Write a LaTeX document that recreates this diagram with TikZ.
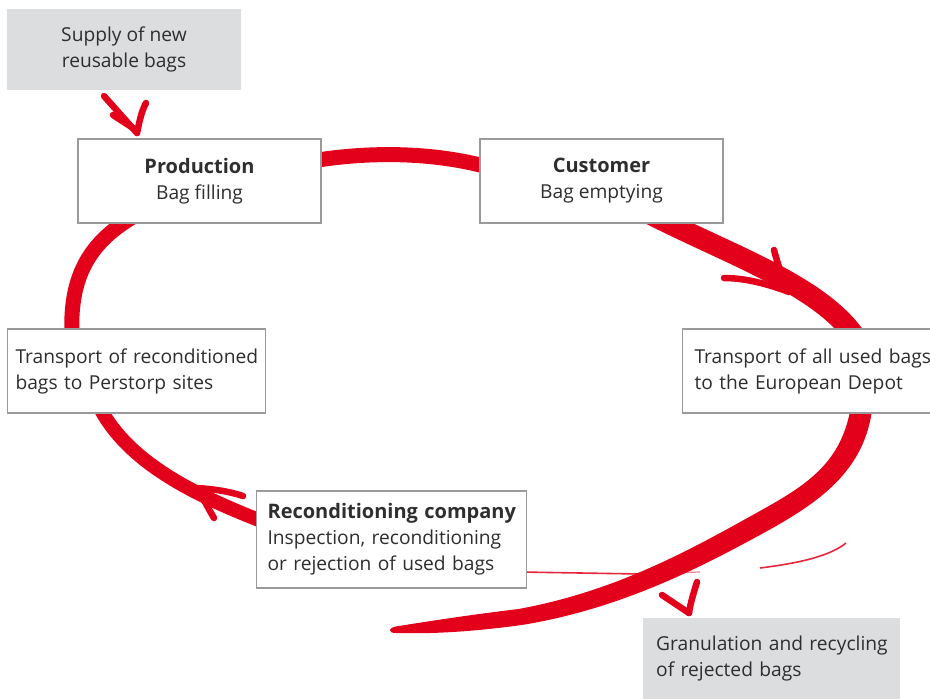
\documentclass[tikz,border=0pt]{standalone}
\usepackage{fontspec}
\setmainfont{Open Sans}
\usetikzlibrary{calc}
\definecolor{pred}{HTML}{E2001A}
\definecolor{boxgray}{HTML}{DCDDDF}
\definecolor{bordergray}{HTML}{9A9A9A}
\definecolor{txt}{HTML}{2E2E2E}
\newcommand{\ttl}[1]{{\fontsize{20}{26}\selectfont\bfseries #1}}
\tikzset{
  brush/.style={draw=pred,line width=#1,line cap=round,line join=round},
  brush/.default=14pt,
  brushfill/.style={fill=pred,draw=none},
  barb/.style={draw=pred,line width=6.5pt,line cap=round,line join=round},
  wbox/.style={draw=bordergray,line width=1.1pt,fill=white,rectangle,inner sep=0pt,text=txt,font=\fontsize{19.2}{26}\selectfont},
  gbox/.style={fill=boxgray,rectangle,inner sep=0pt,text=txt,font=\fontsize{19.2}{26}\selectfont},
}
\begin{document}
\begin{tikzpicture}[x=1pt,y=-1pt]
\useasboundingbox (0,0) rectangle (930,699);
% coordinates for stroke ends
\coordinate (a1) at (318,160);
\coordinate (a2) at (484,166);
\coordinate (b1) at (648,213);
\coordinate (b2) at (856,338);
\coordinate (bt) at (789,292);
\coordinate (co0) at (872.5,405.5);
\coordinate (co1) at (764.5,532.5);
\coordinate (co2) at (521.5,625);
\coordinate (co3) at (396,633);
\coordinate (ci3) at (399,626);
\coordinate (ci2) at (518.5,609);
\coordinate (ci1) at (755.5,513.5);
\coordinate (ci0) at (851.5,402.5);
\coordinate (d1) at (264,522);
\coordinate (d2) at (100,408);
\coordinate (dt) at (197,488);
\coordinate (e1) at (72,336);
\coordinate (e2) at (136,215);
\coordinate (gt) at (689,613);
\coordinate (st) at (137,133);
% strokes
\draw[brush=15pt] (a1) .. controls (370,152) and (430,152) .. (a2);
\draw[brush=21pt] (b1) .. controls (730,255) and (820,285) .. (b2);
\draw[barb] (774,250) .. controls (778,265) and (783,280) .. (bt);
\draw[barb] (724,278) .. controls (745,278) and (768,284) .. (bt);
\draw[draw=pred,line width=1.6pt,opacity=0.85] (520,572) -- (640,574);
\draw[draw=pred,line width=1.2pt,opacity=0.5] (640,574) -- (700,572);
\draw[draw=pred,line width=1.6pt,opacity=0.85] (760,568) .. controls (800,563) and (830,556) .. (846,543);
\fill[brushfill] (co0) .. controls (866,472) and (816,504) .. (co1)
  .. controls (705,565) and (622,609) .. (co2)
  .. controls (471,632) and (430,634) .. (co3)
  .. controls (387,633) and (388,627) .. (ci3)
  .. controls (430,621) and (469,615) .. (ci2)
  .. controls (618,591) and (695,547) .. (ci1)
  .. controls (805,486) and (843,464) .. (ci0) -- cycle;
\draw[barb] (662,595) -- (gt);
\draw[barb] (697,582) .. controls (693,595) and (690,605) .. (gt);
\draw[brush=14pt] (d1) .. controls (200,497) and (130,465) .. (d2);
\draw[barb] (243,496) .. controls (228,491) and (212,489) .. (dt);
\draw[barb] (214,518) .. controls (208,508) and (202,496) .. (dt);
\draw[brush=15pt] (e1) .. controls (69,272) and (93,240) .. (e2);
\draw[barb] (104,96) -- (st);
\draw[barb] (113,115) -- (133,128);
\draw[barb] (146,103) .. controls (141,112) and (139,124) .. (st);
% boxes
\node[gbox,minimum width=234pt,minimum height=81pt,align=center] (supply) at (124,49.5) {Supply of new\\reusable bags};
\node[wbox,minimum width=243pt,minimum height=84pt,align=center] (prod) at (199.5,181) {\ttl{Production}\\Bag filling};
\node[wbox,minimum width=243pt,minimum height=84pt,align=center] (cust) at (601.5,181) {\ttl{Customer}\\Bag emptying};
\node[wbox,minimum width=262pt,minimum height=84pt,align=left,anchor=west,text width=262pt] (tused) at (682,371) {\hspace*{12pt}\mbox{Transport of all used bags}\\\hspace*{12pt}\mbox{to the European Depot}};
\node[wbox,minimum width=258pt,minimum height=84pt,align=left,anchor=west,text width=258pt] (trec) at (7,371) {\hspace*{8pt}\mbox{Transport of reconditioned}\\\hspace*{8pt}\mbox{bags to Perstorp sites}};
\node[wbox,minimum width=270pt,minimum height=97pt,align=left,anchor=west,text width=270pt] (recond) at (256,539.5) {\hspace*{11pt}\mbox{\ttl{Reconditioning company}}\\\hspace*{11pt}\mbox{Inspection, reconditioning}\\\hspace*{11pt}\mbox{or rejection of used bags}};
\node[gbox,minimum width=257pt,minimum height=81pt,align=left,anchor=west,text width=257pt] (gran) at (643,658.5) {\hspace*{13pt}\mbox{Granulation and recycling}\\\hspace*{13pt}\mbox{of rejected bags}};
\end{tikzpicture}
\end{document}
